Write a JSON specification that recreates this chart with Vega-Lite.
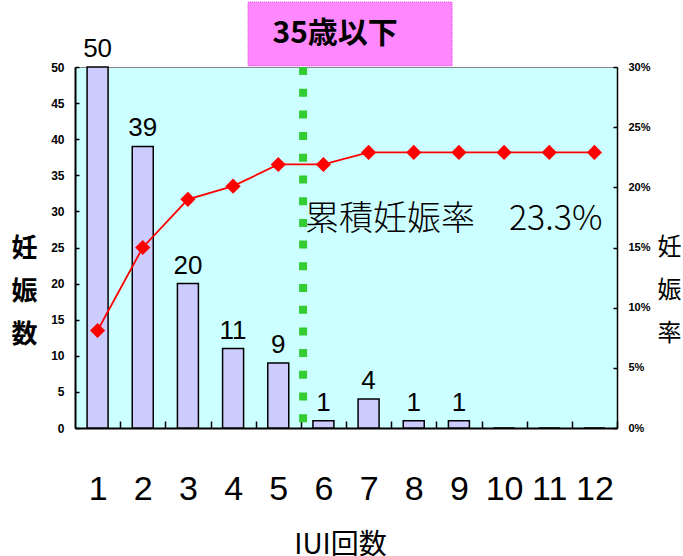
{
  "$schema": "https://vega.github.io/schema/vega-lite/v6.json",
  "autosize": {"type": "none"},
  "padding": {"left": 75, "top": 67, "right": 66, "bottom": 128},
  "width": 542,
  "height": 361,
  "background": "white",
  "config": {
    "view": {"fill": "#CCFFFF", "stroke": "#888888", "strokeWidth": 1},
    "axis": {"grid": false, "labelOverlap": false, "labelColor": "black", "titleColor": "black", "tickColor": "black", "domainColor": "black", "tickWidth": 1.5},
    "axisBottom": {
      "tickCount": 12,
      "tickOffset": 22.6,
      "labelOffset": -22.6,
      "tickSize": -7,
      "domainWidth": 2,
      "labelFont": "Liberation Sans",
      "labelFontSize": 34,
      "labelPadding": 51,
      "labelFlush": false,
      "titleFont": "Noto Sans CJK JP",
      "titleFontSize": 28,
      "titleFontWeight": "normal",
      "titleBaseline": "top",
      "titleX": 265,
      "titleY": 103
    },
    "axisLeft": {
      "tickCount": 10,
      "titleAngle": 0,
      "titleFont": "Noto Sans CJK JP",
      "titleFontSize": 26,
      "titleFontWeight": "bold",
      "titleLineHeight": 43,
      "titleAlign": "center",
      "titleBaseline": "middle",
      "titleX": -51,
      "titleY": 181,
      "tickSize": -4,
      "domainWidth": 2,
      "labelFont": "Liberation Sans",
      "labelFontSize": 12,
      "labelFontWeight": "bold",
      "labelPadding": 15
    },
    "axisRight": {
      "tickCount": 6,
      "titleAngle": 0,
      "titleFont": "Noto Sans CJK JP",
      "titleFontSize": 24,
      "titleFontWeight": "normal",
      "titleLineHeight": 43,
      "titleAlign": "center",
      "titleBaseline": "middle",
      "titleX": 52,
      "titleY": 180,
      "tickSize": -4,
      "domainWidth": 1.5,
      "labelFont": "Liberation Sans",
      "labelFontSize": 11,
      "labelFontWeight": "bold",
      "labelPadding": 15
    }
  },
  "data": {
    "values": [
      {"iui": 1, "count": 50, "rate": 8.1},
      {"iui": 2, "count": 39, "rate": 15.0},
      {"iui": 3, "count": 20, "rate": 19.0},
      {"iui": 4, "count": 11, "rate": 20.1},
      {"iui": 5, "count": 9, "rate": 21.9},
      {"iui": 6, "count": 1, "rate": 21.9},
      {"iui": 7, "count": 4, "rate": 22.9},
      {"iui": 8, "count": 1, "rate": 22.9},
      {"iui": 9, "count": 1, "rate": 22.9},
      {"iui": 10, "count": 0, "rate": 22.9},
      {"iui": 11, "count": 0, "rate": 22.9},
      {"iui": 12, "count": 0, "rate": 22.9}
    ]
  },
  "layer": [
    {
      "layer": [
        {
          "mark": {"type": "bar", "width": 21, "fill": "#CCCCFF", "stroke": "black", "strokeWidth": 1.5},
          "encoding": {
            "x": {
              "field": "iui",
              "type": "quantitative",
              "scale": {"domain": [0.5, 12.5], "nice": false, "zero": false, "padding": 0},
              "axis": {"title": "IUI回数", "orient": "bottom"}
            },
            "y": {
              "field": "count",
              "type": "quantitative",
              "scale": {"domain": [0, 50], "nice": false},
              "axis": {"title": ["妊", "娠", "数"], "orient": "left"}
            }
          }
        },
        {
          "transform": [{"filter": "datum.count > 0"}],
          "mark": {"type": "text", "baseline": "bottom", "dy": -5, "font": "Liberation Sans", "fontSize": 26, "color": "black"},
          "encoding": {
            "x": {"field": "iui", "type": "quantitative", "axis": {"title": "IUI回数", "orient": "bottom"}},
            "y": {"field": "count", "type": "quantitative", "axis": {"title": ["妊", "娠", "数"], "orient": "left"}},
            "text": {"field": "count", "type": "quantitative"}
          }
        },
        {
          "data": {"values": [{"label": "35歳以下"}]},
          "mark": {"type": "rect", "fill": "#FF88FF", "stroke": "#EE44EE", "strokeWidth": 1, "strokeDash": [1, 1]},
          "encoding": {
            "x": {"datum": 4.33, "type": "quantitative", "axis": {"title": "IUI回数", "orient": "bottom"}},
            "x2": {"datum": 8.85},
            "y": {"datum": 50.15, "type": "quantitative", "axis": {"title": ["妊", "娠", "数"], "orient": "left"}},
            "y2": {"datum": 59}
          }
        },
        {
          "data": {"values": [{"label": "35歳以下"}]},
          "mark": {"type": "text", "align": "center", "baseline": "middle", "font": "Noto Sans CJK JP", "fontSize": 30, "fontWeight": "bold", "color": "black"},
          "encoding": {
            "x": {"datum": 6.26, "type": "quantitative", "axis": {"title": "IUI回数", "orient": "bottom"}},
            "y": {"datum": 54.6, "type": "quantitative", "axis": {"title": ["妊", "娠", "数"], "orient": "left"}},
            "text": {"field": "label", "type": "nominal"}
          }
        }
      ]
    },
    {
      "layer": [
        {
          "mark": {"type": "line", "color": "#FF0000", "strokeWidth": 1.8},
          "encoding": {
            "x": {"field": "iui", "type": "quantitative", "axis": {"title": "IUI回数", "orient": "bottom"}},
            "y": {
              "field": "rate",
              "type": "quantitative",
              "scale": {"domain": [0, 30], "nice": false},
              "axis": {"title": ["妊", "娠", "率"], "orient": "right", "labelExpr": "datum.value + '%'"}
            }
          }
        },
        {
          "mark": {"type": "point", "shape": "diamond", "filled": true, "size": 230, "color": "#FF0000", "opacity": 1},
          "encoding": {
            "x": {"field": "iui", "type": "quantitative", "axis": {"title": "IUI回数", "orient": "bottom"}},
            "y": {"field": "rate", "type": "quantitative", "axis": {"title": ["妊", "娠", "率"], "orient": "right", "labelExpr": "datum.value + '%'"}}
          }
        },
        {
          "data": {"values": [{"note": "累積妊娠率　23.3%"}]},
          "mark": {"type": "text", "align": "left", "baseline": "middle", "font": "Noto Sans CJK JP", "fontSize": 34, "fontWeight": 300, "color": "black"},
          "encoding": {
            "x": {"datum": 5.59, "type": "quantitative", "axis": {"title": "IUI回数", "orient": "bottom"}},
            "y": {"datum": 17.3, "type": "quantitative", "axis": {"title": ["妊", "娠", "率"], "orient": "right", "labelExpr": "datum.value + '%'"}},
            "text": {"field": "note", "type": "nominal"}
          }
        }
      ]
    },
    {
      "data": {"values": [{"split": 5.55}]},
      "mark": {"type": "rule", "color": "#33CC33", "strokeWidth": 8, "strokeDash": [8, 13.7]},
      "encoding": {
        "x": {"field": "split", "type": "quantitative", "axis": {"title": "IUI回数", "orient": "bottom"}}
      }
    }
  ],
  "resolve": {"scale": {"y": "independent"}}
}
